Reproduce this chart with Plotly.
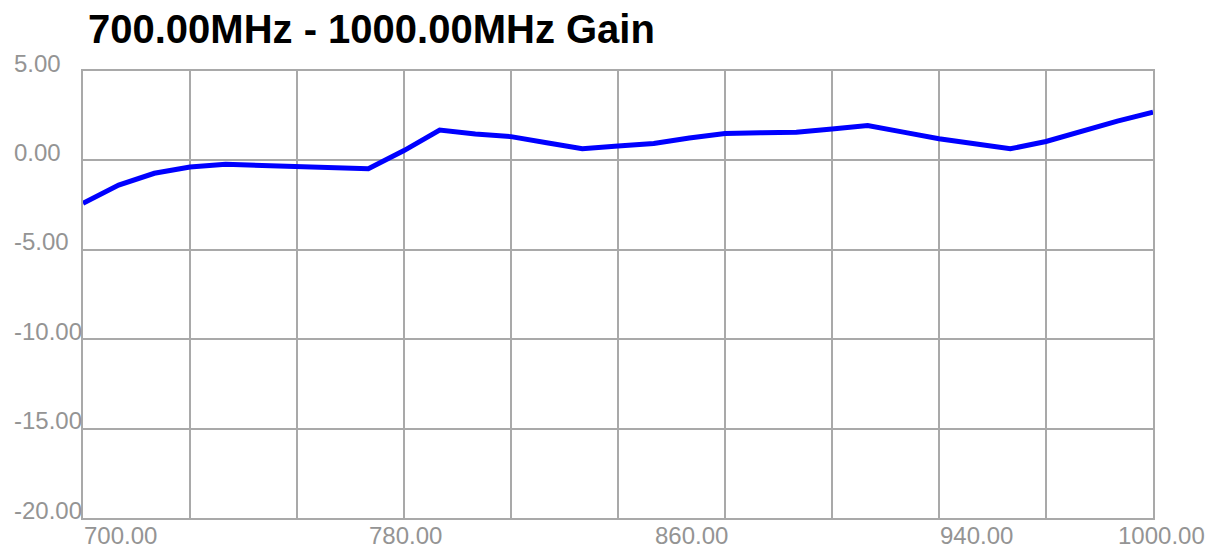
import plotly.graph_objects as go

title_text = "700.00MHz - 1000.00MHz Gain"
freq_mhz = [700, 710, 720, 730, 740, 750, 760, 770, 780, 790, 800,
            810, 820, 830, 840, 850, 860, 870, 880, 890, 900,
            910, 920, 930, 940, 950, 960, 970, 980, 990, 1000]
gain_db = [-2.40, -1.38, -0.72, -0.37, -0.22, -0.29, -0.33, -0.42, -0.47, 0.55, 1.70,
           1.48, 1.33, 0.99, 0.65, 0.80, 0.95, 1.25, 1.50, 1.55, 1.58,
           1.75, 1.95, 1.58, 1.21, 0.93, 0.65, 1.06, 1.65, 2.20, 2.70]
x_grid = [700, 730, 760, 790, 820, 850, 880, 910, 940, 970, 1000]
x_label_vals = [700, 780, 860, 940, 1000]
y_grid = [-20, -15, -10, -5, 0, 5]

# page body has an 8px margin, so the figure is sized to the remaining area
W, H = 1210, 540
ML, MR, MT, MB = 75, 65, 63, 30
plot_w = W - ML - MR

grid_col = "#a9a9a9"
label_col = "#949494"
font_fam = "Arial, 'Liberation Sans', sans-serif"
label_size = 24

fig = go.Figure()
fig.add_trace(go.Scatter(x=freq_mhz, y=gain_db, mode="lines",
                         line=dict(color="#0000ff", width=5), showlegend=False))

annotations = []
for v in x_label_vals:
    txt = f"{v:.2f}"
    if v == x_label_vals[-1]:
        annotations.append(dict(x=1, xref="paper", xshift=54, xanchor="right",
                                y=0, yref="paper", yanchor="middle", yshift=-17,
                                text=txt, showarrow=False,
                                font=dict(family=font_fam, size=label_size, color=label_col)))
    else:
        annotations.append(dict(x=v, xref="x", xanchor="left", xshift=-1,
                                y=0, yref="paper", yanchor="middle", yshift=-17,
                                text=txt, showarrow=False,
                                font=dict(family=font_fam, size=label_size, color=label_col)))
for v in y_grid:
    annotations.append(dict(x=(4 - ML) / plot_w, xref="paper", xanchor="left",
                            y=v, yref="y", yanchor="middle", yshift=8,
                            text=f"{v:.2f}", showarrow=False,
                            font=dict(family=font_fam, size=label_size, color=label_col)))

fig.update_layout(
    width=W, height=H,
    margin=dict(l=ML, r=MR, t=MT, b=MB, pad=0),
    paper_bgcolor="white", plot_bgcolor="white",
    title=dict(text=title_text, xref="container", yref="container",
               x=80 / W, xanchor="left", y=1 - 21 / H, yanchor="middle",
               font=dict(family=font_fam, size=40, color="black", weight="bold")),
    xaxis=dict(range=[700, 1000], tickvals=x_grid, showticklabels=False,
               ticks="", showgrid=True, gridcolor=grid_col, gridwidth=2,
               zeroline=False, showline=True, linecolor=grid_col, linewidth=2,
               mirror=True),
    yaxis=dict(range=[-20, 5], tickvals=y_grid, showticklabels=False,
               ticks="", showgrid=True, gridcolor=grid_col, gridwidth=2,
               zeroline=False, showline=True, linecolor=grid_col, linewidth=2,
               mirror=True),
    annotations=annotations,
)

fig.write_html("out.html")
